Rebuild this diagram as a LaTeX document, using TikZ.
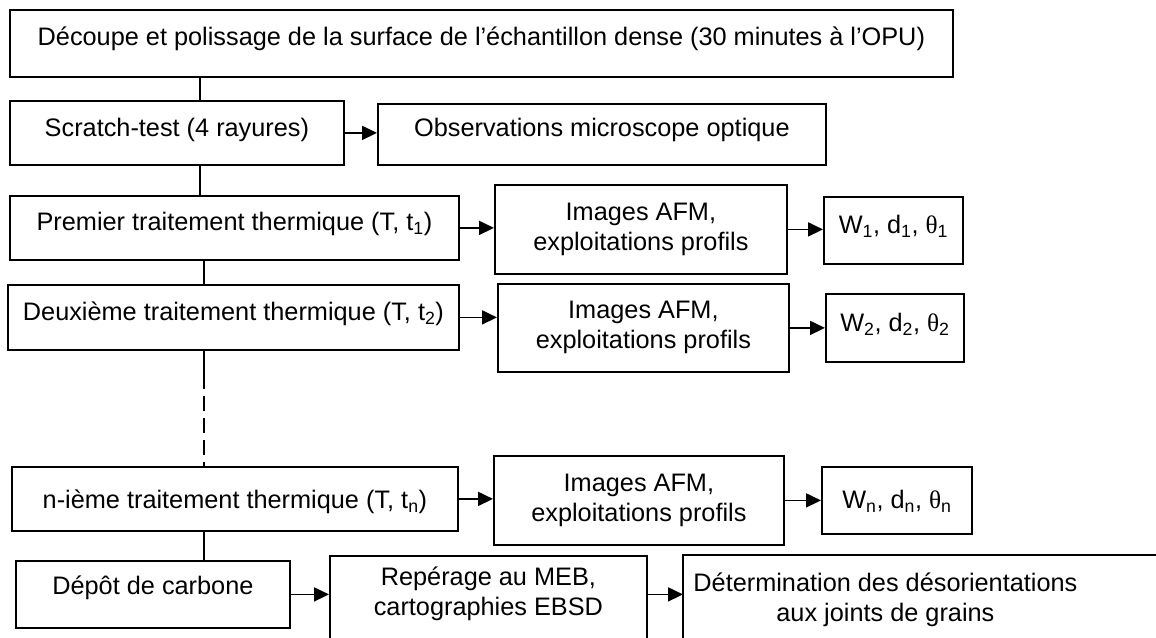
\documentclass[tikz,border=0pt]{standalone}
\usepackage{fontspec}
\setmainfont{Liberation Sans}
\newfontfamily\grk{Liberation Serif}
\usetikzlibrary{arrows.meta}
\begin{document}
\begin{tikzpicture}[x=1pt,y=-1pt,
  font=\fontsize{25.3}{30}\selectfont,
  box/.style={draw, line width=1.8pt, inner sep=0pt, anchor=north west},
  mbox/.style={box, align=center},
  conn/.style={line width=1.8pt},
  arr/.style={line width=1.8pt, -{Triangle[length=15pt,width=14pt]}},
  dsh/.style={line width=1.8pt, dash pattern=on 15pt off 7pt}]
\clip (0,0) rectangle (1156,637);
\node[box, minimum width=943pt, text height=36pt, text depth=31pt] (top) at (9,9)
  {Découpe et polissage de la surface de l’échantillon dense (30 minutes à l’OPU)};
\node[box, minimum width=334pt, text height=36pt, text depth=28pt] (scratch) at (9,100)
  {Scratch-test (4 rayures)};
\node[box, minimum width=448pt, text height=33pt, text depth=28pt] (obs) at (377,103)
  {Observations microscope optique};
\node[box, minimum width=449pt, text height=35pt, text depth=29pt] (prem) at (9,195)
  {Premier traitement thermique (T, t\textsubscript{1})};
\node[mbox, minimum width=292pt, minimum height=89pt] (afm1) at (494,184)
  {Images AFM,\\exploitations profils};
\node[box, minimum width=139pt, text height=37pt, text depth=30pt] (w1) at (823,196)
  {W\textsubscript{1}, d\textsubscript{1}, {\grk θ}\textsubscript{1}};
\node[box, minimum width=451pt, text height=36pt, text depth=29pt] (deux) at (7,284)
  {Deuxième traitement thermique (T, t\textsubscript{2})};
\node[mbox, minimum width=291pt, minimum height=88pt] (afm2) at (497,283)
  {Images AFM,\\exploitations profils};
\node[box, minimum width=138pt, text height=38pt, text depth=30pt] (w2) at (825,293)
  {W\textsubscript{2}, d\textsubscript{2}, {\grk θ}\textsubscript{2}};
\node[box, minimum width=446pt, text height=42pt, text depth=22pt] (nth) at (11,466)
  {n-ième traitement thermique (T, t\textsubscript{n})};
\node[mbox, minimum width=290pt, minimum height=89pt] (afmn) at (493,455)
  {Images AFM,\\exploitations profils};
\node[box, minimum width=150pt, text height=42pt, text depth=25pt] (wn) at (821,466)
  {W\textsubscript{n}, d\textsubscript{n}, {\grk θ}\textsubscript{n}};
\node[box, minimum width=274pt, text height=34pt, text depth=33pt] (depot) at (15,560)
  {Dépôt de carbone};
\node[mbox, minimum width=317pt] (rep) at (329,555)
  {\rule{0pt}{30pt}Repérage au MEB,\\cartographies EBSD\rule[-60pt]{0pt}{0pt}};
\node[mbox, draw=none, minimum width=403pt] (det) at (683,555)
  {\rule{0pt}{36pt}Détermination des désorientations\\aux joints de grains\rule[-60pt]{0pt}{0pt}};
\draw[conn] (det.south west) -- (det.north west) -- ++(600,0);
% vertical connectors
\coordinate (xa) at (200,0);
\coordinate (xb) at (204,0);
\draw[conn] (top.south -| xa) -- (scratch.north -| xa);
\draw[conn] (scratch.south -| xa) -- (prem.north -| xa);
\draw[conn] (prem.south -| xb) -- (deux.north -| xb);
\coordinate (mid) at ([yshift=-23pt]deux.south -| xb);
\draw[conn] (deux.south -| xb) -- (mid);
\draw[dsh] (mid) -- (nth.north -| xb);
\draw[conn] (nth.south -| xb) -- (depot.north -| xb);
% arrows
\draw[arr] (scratch.east) -- (scratch.east -| obs.west);
\draw[arr] (prem.east) -- (prem.east -| afm1.west);
\draw[arr] (afm1.east) -- (afm1.east -| w1.west);
\draw[arr] (deux.east) -- (deux.east -| afm2.west);
\draw[arr] (afm2.east) -- (afm2.east -| w2.west);
\draw[arr] (nth.east) -- (nth.east -| afmn.west);
\draw[arr] (afmn.east) -- (afmn.east -| wn.west);
\draw[arr] (depot.east) -- (depot.east -| rep.west);
\draw[arr] (rep.east |- depot.east) -- (det.west |- depot.east);
\end{tikzpicture}
\end{document}
